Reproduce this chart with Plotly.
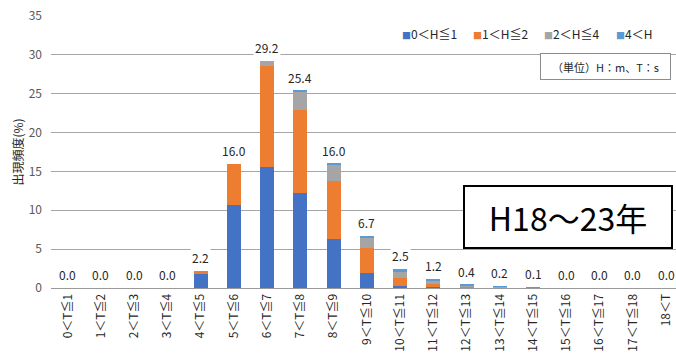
import plotly.graph_objects as go

categories = ["0＜T≦1", "1＜T≦2", "2＜T≦3", "3＜T≦4", "4＜T≦5", "5＜T≦6", "6＜T≦7",
              "7＜T≦8", "8＜T≦9", "9＜T≦10", "10＜T≦11", "11＜T≦12", "12＜T≦13",
              "13＜T≦14", "14＜T≦15", "15＜T≦16", "16＜T≦17", "17＜T≦18", "18＜T"]
series_names = ["0＜H≦1", "1＜H≦2", "2＜H≦4", "4＜H"]
h_0_1 = [0, 0, 0, 0, 1.8, 10.7, 15.6, 12.2, 6.3, 1.9, 0.3, 0.1, 0.05, 0, 0, 0, 0, 0, 0]
h_1_2 = [0, 0, 0, 0, 0.4, 5.3, 13.0, 10.7, 7.5, 3.3, 1.0, 0.45, 0.1, 0.05, 0, 0, 0, 0, 0]
h_2_4 = [0, 0, 0, 0, 0, 0, 0.6, 2.4, 2.05, 1.2, 0.8, 0.35, 0.15, 0.1, 0.05, 0, 0, 0, 0]
h_4_up = [0, 0, 0, 0, 0, 0, 0, 0.1, 0.15, 0.3, 0.4, 0.3, 0.1, 0.05, 0.05, 0, 0, 0, 0]
totals = [0.0, 0.0, 0.0, 0.0, 2.2, 16.0, 29.2, 25.4, 16.0, 6.7, 2.5, 1.2, 0.4, 0.2, 0.1, 0.0, 0.0, 0.0, 0.0]
y_ticks = [0, 5, 10, 15, 20, 25, 30, 35]

colors = ["#4472C4", "#ED7D31", "#A5A5A5", "#5B9BD5"]
font_jp = "Noto Sans CJK JP"

fig = go.Figure()
for name, vals, col in zip(series_names, [h_0_1, h_1_2, h_2_4, h_4_up], colors):
    fig.add_trace(go.Bar(x=categories, y=vals, name=name, marker=dict(color=col, line=dict(width=0)),
                         showlegend=False))

# data labels
for c, t in zip(categories, totals):
    fig.add_annotation(x=c, y=t, xref="x", yref="y", text=f"{t:.1f}", showarrow=False,
                       yanchor="bottom", yshift=3, bgcolor="white", borderpad=1,
                       font=dict(family=font_jp, size=12, color="#262626"))

# legend built as text entries
legend_x = [400, 471, 542, 614]
for name, col, px in zip(series_names, colors, legend_x):
    fig.add_annotation(x=(px - 51) / 625, y=(288 - 33) / 272, xref="paper", yref="paper",
                       text=f"<span style='color:{col};font-size:9px'>■</span>{name}",
                       showarrow=False, xanchor="left", yanchor="middle",
                       font=dict(family=font_jp, size=12, color="#262626"))

# unit box
fig.add_annotation(x=(605.5 - 51) / 625, y=(288 - 66.5) / 272, xref="paper", yref="paper",
                   text="（単位）H：m、T：s", showarrow=False, xanchor="center", yanchor="middle",
                   width=127, height=23, bgcolor="white", bordercolor="#8c8c8c", borderwidth=1,
                   borderpad=1, font=dict(family=font_jp, size=11, color="#262626"))

# period box
fig.add_annotation(x=(568 - 51) / 625, y=(288 - 217) / 272, xref="paper", yref="paper",
                   text="H18～23年", showarrow=False, xanchor="center", yanchor="middle",
                   width=206, height=60, bgcolor="white", bordercolor="black", borderwidth=2,
                   borderpad=0, font=dict(family=font_jp, size=32, color="black"))

fig.update_layout(
    width=676, height=353,
    margin=dict(l=51, r=0, t=16, b=65),
    paper_bgcolor="white", plot_bgcolor="white",
    barmode="stack", bargap=0.58,
    font=dict(family=font_jp, color="#404040"),
    xaxis=dict(range=[-0.5, 18.3], tickangle=-90, tickfont=dict(size=12, color="#262626"),
               automargin=False,
               showgrid=False, showline=True, linecolor="#9a9a9a", linewidth=1, ticks=""),
    yaxis=dict(range=[0, 35], tickvals=y_ticks, tickfont=dict(size=12, color="#595959"),
               automargin=False,
               showgrid=True, gridcolor="#a6a6a6", gridwidth=1, zeroline=False, ticks="",
               ticklabelstandoff=8,
               title=dict(text="出現頻度(%)", font=dict(size=12, color="#262626"), standoff=2)),
)

fig.write_html("out.html", config={"displayModeBar": False},
               post_script="document.body.style.margin='0';document.body.style.overflow='hidden';")
